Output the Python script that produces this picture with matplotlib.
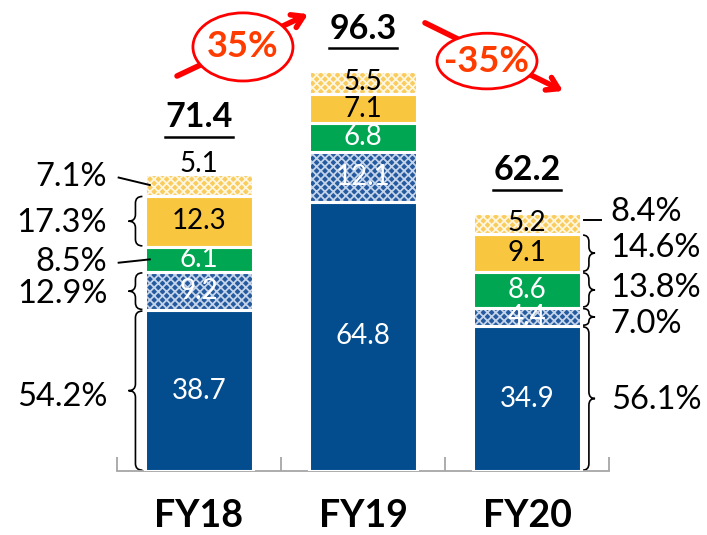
import matplotlib
matplotlib.use("Agg")
import matplotlib.pyplot as plt
import numpy as np
from matplotlib.path import Path
from matplotlib.patches import PathPatch, Ellipse

# data (bottom to top segments)
years = ["FY18", "FY19", "FY20"]
seg_dark = [38.7, 64.8, 34.9]
seg_blue_hatch = [9.2, 12.1, 4.4]
seg_green = [6.1, 6.8, 8.6]
seg_yellow = [12.3, 7.1, 9.1]
seg_light_hatch = [5.1, 5.5, 5.2]
totals = ["71.4", "96.3", "62.2"]
pct_fy18 = ["54.2%", "12.9%", "8.5%", "17.3%", "7.1%"]
pct_fy20 = ["56.1%", "7.0%", "13.8%", "14.6%", "8.4%"]
growth = ["35%", "-35%"]

segments = [seg_dark, seg_blue_hatch, seg_green, seg_yellow, seg_light_hatch]
faces = ["#034D8E", "#255A9E", "#00A651", "#F9C73F", "#F9CC5E"]
hatches = [None, "xxxx", None, None, "xxxx"]
hatch_cols = [None, "#C4D4EA", None, None, "#FFF6E0"]
txt_cols = ["white", "white", "white", "black", "black"]

plt.rcParams["font.family"] = ["Lato", "DejaVu Sans"]
plt.rcParams["hatch.linewidth"] = 1.3

fig = plt.figure(figsize=(7.07, 5.35), dpi=100)
ax = fig.add_axes([117 / 707, 64 / 535, 492 / 707, 471 / 535])
ax.set_xlim(-0.5, 2.5)
ax.set_ylim(0, 113.4)

x = np.arange(len(years))
bw = 0.66
bottom = np.zeros(len(years))
for i, vals in enumerate(segments):
    vals = np.array(vals)
    if hatches[i]:
        ax.bar(x, vals, bw, bottom=bottom, color=faces[i], hatch=hatches[i],
               edgecolor=hatch_cols[i], lw=0, zorder=2)
    else:
        ax.bar(x, vals, bw, bottom=bottom, color=faces[i], lw=0, zorder=2)
    ax.bar(x, vals, bw, bottom=bottom, fill=False, edgecolor="white", lw=2.2, zorder=3)
    for j in range(len(years)):
        yc = bottom[j] + vals[j] / 2
        if i == 4 and j == 0:
            yc = bottom[j] + vals[j] + 2.6   # label sits just above the small segment
        ax.text(x[j], yc, f"{vals[j]:.1f}", ha="center", va="center",
                color=txt_cols[i], fontsize=20, zorder=4)
    bottom = bottom + vals

# totals, underlined
tot_off = [13.8, 10.2, 10.2]
for j in range(len(years)):
    ty = bottom[j] + tot_off[j]
    ax.text(x[j], ty, totals[j], ha="center", va="center", fontsize=24.5,
            fontweight="bold", zorder=4)
    ax.plot([x[j] - 0.21, x[j] + 0.21], [ty - 4.7, ty - 4.7], color="black", lw=1.8,
            clip_on=False)


def brace(x_tip, y0, y1, w, side):
    # side=-1 tip on the left, +1 tip on the right
    r = min(1.6, (y1 - y0) / 4)
    xe = x_tip - side * w
    xm = x_tip - side * w / 2
    ym = (y0 + y1) / 2
    verts = [(xe, y1), (xm, y1), (xm, y1 - r), (xm, ym + r), (xm, ym), (x_tip, ym),
             (xm, ym), (xm, ym - r), (xm, y0 + r), (xm, y0), (xe, y0)]
    codes = [Path.MOVETO, Path.CURVE3, Path.CURVE3, Path.LINETO, Path.CURVE3, Path.CURVE3,
             Path.CURVE3, Path.CURVE3, Path.LINETO, Path.CURVE3, Path.CURVE3]
    ax.add_patch(PathPatch(Path(verts, codes), fill=False, lw=1.2, color="black",
                           clip_on=False))


# FY18 shares on the left
cum18 = np.cumsum([0] + [s[0] for s in segments])
kind18 = ["brace", "brace", "line", "brace", "line"]
nudge18 = [-1.6, -0.8, -0.6, -0.4, 2.0]
edge = x[0] - bw / 2
for i in range(5):
    y0, y1 = cum18[i], cum18[i + 1]
    yc = (y0 + y1) / 2
    ly = yc + nudge18[i]
    ax.text(-0.56, ly, pct_fy18[i], ha="right", va="center", fontsize=23.5, zorder=4)
    if kind18[i] == "brace":
        brace(edge - 0.10, y0 + 0.2, y1 - 0.2, 0.085, -1)
    else:
        ax.plot([-0.49, edge + 0.03], [ly - 0.2, yc], color="black", lw=1.4, zorder=5)

# FY20 shares on the right
cum20 = np.cumsum([0] + [s[2] for s in segments])
kind20 = ["brace", "brace", "brace", "brace", "line"]
nudge20 = [-0.3, -1.6, 0.4, 1.2, 2.8]
edge = x[2] + bw / 2
for i in range(5):
    y0, y1 = cum20[i], cum20[i + 1]
    yc = (y0 + y1) / 2
    ly = yc + nudge20[i]
    ax.text(2.51, ly, pct_fy20[i], ha="left", va="center", fontsize=23.5, zorder=4)
    if kind20[i] == "brace":
        brace(edge + 0.085, y0 + 0.2, y1 - 0.2, 0.075, 1)
    else:
        ax.plot([edge, edge + 0.12], [yc + 0.8, yc + 0.8], color="black", lw=1.4,
                clip_on=False)

# growth arrows with ellipses
arrows = [((-0.134, 95.1), (0.665, 110.0)), ((1.378, 107.9), (2.22, 91.5))]
ell = [((0.268, 102.1), 0.61, 16.4), ((1.756, 98.7), 0.61, 13.4)]
for k in range(2):
    (xa, ya), (xb, yb) = arrows[k]
    ax.annotate("", xy=(xb, yb), xytext=(xa, ya),
                arrowprops=dict(arrowstyle="->,head_length=0.8,head_width=0.5",
                                color="#FF0000", lw=4, shrinkA=0, shrinkB=0),
                annotation_clip=False, zorder=5)
    c, w, h = ell[k]
    ax.add_patch(Ellipse(c, w, h, facecolor="white", edgecolor="#FF0000", lw=2,
                         zorder=6, clip_on=False))
    ax.text(c[0], c[1], growth[k], ha="center", va="center", color="#FF3C00",
            fontsize=26, fontweight="bold", zorder=7)

# axis styling
for s in ["top", "right", "left"]:
    ax.spines[s].set_visible(False)
ax.spines["bottom"].set_color("#A6A6A6")
ax.spines["bottom"].set_linewidth(1.3)
ax.set_yticks([])
ax.set_xticks(x)
ax.set_xticklabels(years, fontsize=27, fontweight="bold")
ax.tick_params(axis="x", which="major", length=0, pad=20)
ax.set_xticks([-0.5, 0.5, 1.5, 2.5], minor=True)
ax.tick_params(axis="x", which="minor", direction="in", length=10, width=1.3,
               color="#A6A6A6")
ax.patch.set_alpha(0)

fig.savefig("out.png", dpi=100)
